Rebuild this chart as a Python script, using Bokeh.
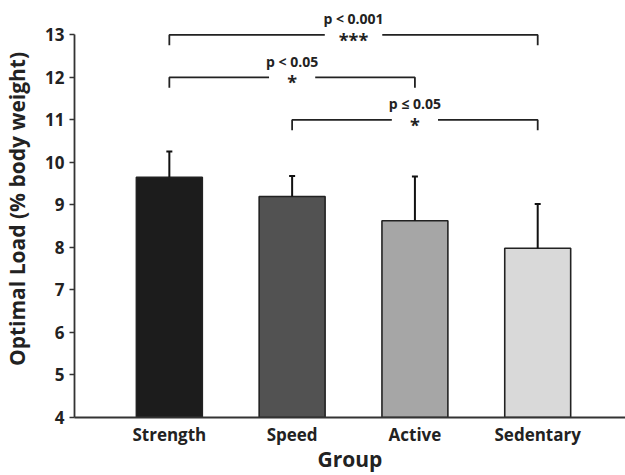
from bokeh.plotting import figure
from bokeh.models import (ColumnDataSource, Range1d, FixedTicker, Whisker, TeeHead)
from bokeh.core.properties import value
from bokeh.embed import file_html
from bokeh.resources import INLINE

# ---- data ----
groups = ["Strength", "Speed", "Active", "Sedentary"]
means = [9.65, 9.20, 8.63, 7.98]
sds = [0.61, 0.48, 1.04, 1.04]
colors = ["#1c1c1c", "#525252", "#a6a6a6", "#d9d9d9"]
x_title = "Group"
y_title = "Optimal Load (% body weight)"

# significance comparisons (group index pairs, bracket height, label)
comp_left = [1, 1, 2]
comp_right = [4, 3, 4]
comp_level = [13, 12, 11]
comp_p = ["p < 0.001", "p < 0.05", "p \u2264 0.05"]
comp_stars = ["***", "*", "*"]

yticks = [4, 5, 6, 7, 8, 9, 10, 11, 12, 13]

FONT = "Open Sans"
TXT = "#222222"

xpos = list(range(1, len(groups) + 1))
upper = [m + s for m, s in zip(means, sds)]
src = ColumnDataSource(dict(x=xpos, top=means, upper=upper, color=colors))

p = figure(width=625, height=475, output_backend="svg", toolbar_location=None,
           x_range=Range1d(0.2276, 4.715), y_range=Range1d(4, 13.81),
           min_border_left=73, min_border_right=0, min_border_top=0,
           min_border_bottom=58)
p.background_fill_color = "white"
p.border_fill_color = "white"
p.outline_line_color = None
p.grid.visible = False

p.vbar(x="x", top="top", bottom=4, width=0.537, fill_color="color",
       line_color="#222222", line_width=1.6, source=src)

w = Whisker(base="x", lower="top", upper="upper", source=src,
            line_color="#111111", line_width=2,
            upper_head=TeeHead(size=6, line_color="#111111", line_width=2),
            lower_head=None, level="overlay")
p.add_layout(w)

# significance brackets
drop = 0.24
bx, by = [], []
for l, r, lev, st in zip(comp_left, comp_right, comp_level, comp_stars):
    mid = (l + r) / 2
    half = 0.165 + 0.023 * len(st)
    bx.append([l, l, mid - half])
    by.append([lev - drop, lev, lev])
    bx.append([mid + half, r, r])
    by.append([lev, lev, lev - drop])
p.multi_line(bx, by, line_color="#222222", line_width=1.8)

mids = [(l + r) / 2 for l, r in zip(comp_left, comp_right)]
p.text(x=mids, y=comp_level, text=comp_stars, text_font=value(FONT),
       text_font_size="18px", text_font_style="bold", text_align="center",
       text_baseline="middle", y_offset=5, text_color=TXT)
p.text(x=mids, y=comp_level, text=comp_p, text_font=value(FONT),
       text_font_size="14px", text_font_style="bold", text_align="center",
       text_baseline="middle", y_offset=-16, text_color=TXT)

# x axis
p.xaxis.ticker = FixedTicker(ticks=xpos)
p.xaxis.major_label_overrides = {i: g for i, g in zip(xpos, groups)}
p.xaxis.major_tick_in = 0
p.xaxis.major_tick_out = 0
p.xaxis.minor_tick_in = 0
p.xaxis.minor_tick_out = 0
p.xaxis.major_tick_line_color = None
p.xaxis.minor_tick_line_color = None
p.xaxis.axis_line_color = "#333333"
p.xaxis.axis_line_width = 1.8
p.xaxis.axis_label = x_title
p.xaxis.major_label_standoff = 5
p.xaxis.axis_label_standoff = -4
p.xaxis.major_label_text_font_size = "17px"
p.xaxis.axis_label_text_font_size = "21px"

# y axis
p.yaxis.ticker = FixedTicker(ticks=yticks)
p.yaxis.bounds = (4, 13)
p.yaxis.minor_tick_line_color = None
p.yaxis.minor_tick_out = 0
p.yaxis.major_tick_in = 0
p.yaxis.major_tick_out = 5
p.yaxis.major_tick_line_color = "#333333"
p.yaxis.major_tick_line_width = 1.5
p.yaxis.axis_line_color = "#333333"
p.yaxis.axis_line_width = 1.8
p.yaxis.axis_label = y_title
p.yaxis.major_label_standoff = 5
p.yaxis.axis_label_standoff = 11
p.yaxis.major_label_text_font_size = "17px"
p.yaxis.axis_label_text_font_size = "21px"

for ax in (p.xaxis[0], p.yaxis[0]):
    ax.major_label_text_font = FONT
    ax.major_label_text_font_style = "bold"
    ax.major_label_text_color = TXT
    ax.axis_label_text_font = FONT
    ax.axis_label_text_font_style = "bold"
    ax.axis_label_text_color = TXT

open("out.html", "w").write(file_html(p, INLINE))
